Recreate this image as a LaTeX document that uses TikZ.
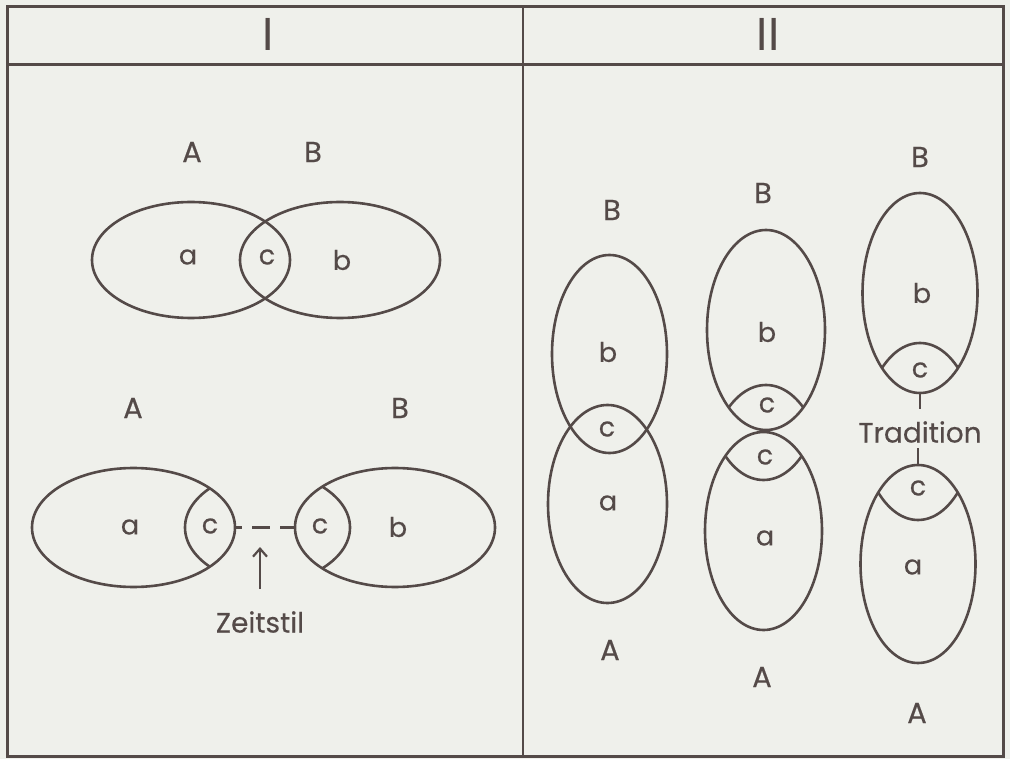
\documentclass[tikz,border=0pt]{standalone}
\usepackage{fontspec}
\setmainfont{Poppins}[FakeBold=0.35]
\newfontfamily\headfont{Poppins}
\usetikzlibrary{shapes.geometric,arrows.meta}
\definecolor{paper}{RGB}{239,240,235}
\definecolor{ink}{RGB}{84,74,72}
\begin{document}
\begin{tikzpicture}[x=1pt,y=-1pt,
  ink line/.style={draw=ink,line width=2.6pt},
  ell/.style={ellipse,ink line,inner sep=0pt,outer sep=0pt},
  capl/.style={text=ink,font=\fontsize{29}{29}\selectfont,inner sep=0pt},
  head/.style={text=ink,font=\headfont\fontsize{46}{46}\selectfont,inner sep=0pt},
  low/.style={text=ink,font=\fontsize{27}{27}\selectfont,inner sep=0pt},
  word/.style={text=ink,font=\fontsize{28}{28}\selectfont,inner sep=0pt},
  arcline/.style={ink line}]
\fill[paper] (0,0) rectangle (1010,759);
\useasboundingbox (0,0) rectangle (1010,759);
% frame
\draw[draw=ink,line width=3pt] (7,7) rectangle (1003,756);
\draw[draw=ink,line width=3pt] (7,65) -- (1003,65);
\draw[draw=ink,line width=2.8pt] (523,7) -- (523,756);
\node[head] (tI) at (268,34) {I};
\node[head] (tII) at (768,34) {II};

% ---------- Panel I top
\node[ell,minimum width=198,minimum height=116] (EA1) at (191,260) {};
\node[ell,minimum width=200,minimum height=116] (EB1) at (340,260) {};
\node[capl] (lA1) at (192,152) {A};
\node[capl] (lB1) at (313,152) {B};
\node[low] (la1) at (188,257) {a};
\node[low] (lc1) at (267,257) {c};
\node[low] (lb1) at (342,260) {b};

% ---------- Panel I bottom
\node[ell,minimum width=203,minimum height=119] (EA2) at (133.5,527.5) {};
\node[ell,minimum width=200,minimum height=119] (EB2) at (395,527.5) {};
\begin{scope}
  \clip (133.5,527.5) ellipse [x radius=101.5,y radius=59.5];
  \draw[arcline] (285,527.5) ellipse [x radius=100,y radius=59.5];
\end{scope}
\begin{scope}
  \clip (395,527.5) ellipse [x radius=100,y radius=59.5];
  \draw[arcline] (248.5,527.5) ellipse [x radius=101.5,y radius=59.5];
\end{scope}
\node[capl] (lA2) at (133,408) {A};
\node[capl] (lB2) at (400,408) {B};
\node[low] (la2) at (130,527) {a};
\node[low] (lc2) at (210,526) {c};
\node[low] (lc3) at (320,526) {c};
\node[low] (lb2) at (398,527) {b};
\draw[ink line,dash pattern=on 18pt off 10pt,dash phase=11pt] (EA2.east) -- (EB2.west);
\node[word] (zeit) at (260,622) {Zeitstil};
\coordinate (arrtop) at (260,547);
\coordinate (arrbot) at (260,589);
\draw[ink line,-{Straight Barb[length=8pt,width=14pt,line width=2.2pt]}] (arrbot) -- (arrtop);

% ---------- Panel II, column 1
\node[ell,minimum width=115,minimum height=198] (EB3) at (609.5,354) {};
\node[ell,minimum width=119,minimum height=198] (EA3) at (607.5,504) {};
\node[capl] (lB3) at (612,210) {B};
\node[low] (lb3) at (608,352) {b};
\node[low] (lc4) at (607,429) {c};
\node[low] (la3) at (608,503) {a};
\node[capl] (lA3) at (610,650) {A};

% ---------- Panel II, column 2
\node[ell,minimum width=118,minimum height=200] (EB4) at (766,330) {};
\node[ell,minimum width=117,minimum height=198] (EA4) at (763.5,531) {};
\begin{scope}
  \clip (766,330) ellipse [x radius=59,y radius=100];
  \draw[arcline] (766,485) ellipse [x radius=59,y radius=100];
\end{scope}
\begin{scope}
  \clip (763.5,531) ellipse [x radius=58.5,y radius=99];
  \draw[arcline] (763.5,381) ellipse [x radius=58.5,y radius=99];
\end{scope}
\node[capl] (lB4) at (763,193) {B};
\node[low] (lb4) at (767,332) {b};
\node[low] (lc5) at (767,405) {c};
\node[low] (lc6) at (765,457) {c};
\node[low] (la4) at (765,538) {a};
\node[capl] (lA4) at (762,677) {A};

% ---------- Panel II, column 3
\node[ell,minimum width=115,minimum height=200] (EB5) at (920,293) {};
\node[ell,minimum width=115,minimum height=198] (EA5) at (918,564) {};
\begin{scope}
  \clip (920,293) ellipse [x radius=57.5,y radius=100];
  \draw[arcline] (920,443) ellipse [x radius=57.5,y radius=100];
\end{scope}
\begin{scope}
  \clip (918,564) ellipse [x radius=57.5,y radius=99];
  \draw[arcline] (918,421) ellipse [x radius=57.5,y radius=99];
\end{scope}
\node[capl] (lB5) at (920,157) {B};
\node[low] (lb5) at (922,293) {b};
\node[low] (lc7) at (920,370) {c};
\node[low] (lc8) at (918,488) {c};
\node[low] (la5) at (913,567) {a};
\node[capl] (lA5) at (917,713) {A};
\node[word] (trad) at (920,432) {Tradition};
\coordinate (t1) at (920,409);
\coordinate (t2) at (918,448);
\draw[ink line] (EB5.south) -- (t1);
\draw[ink line] (t2) -- (EA5.north);
\end{tikzpicture}
\end{document}
